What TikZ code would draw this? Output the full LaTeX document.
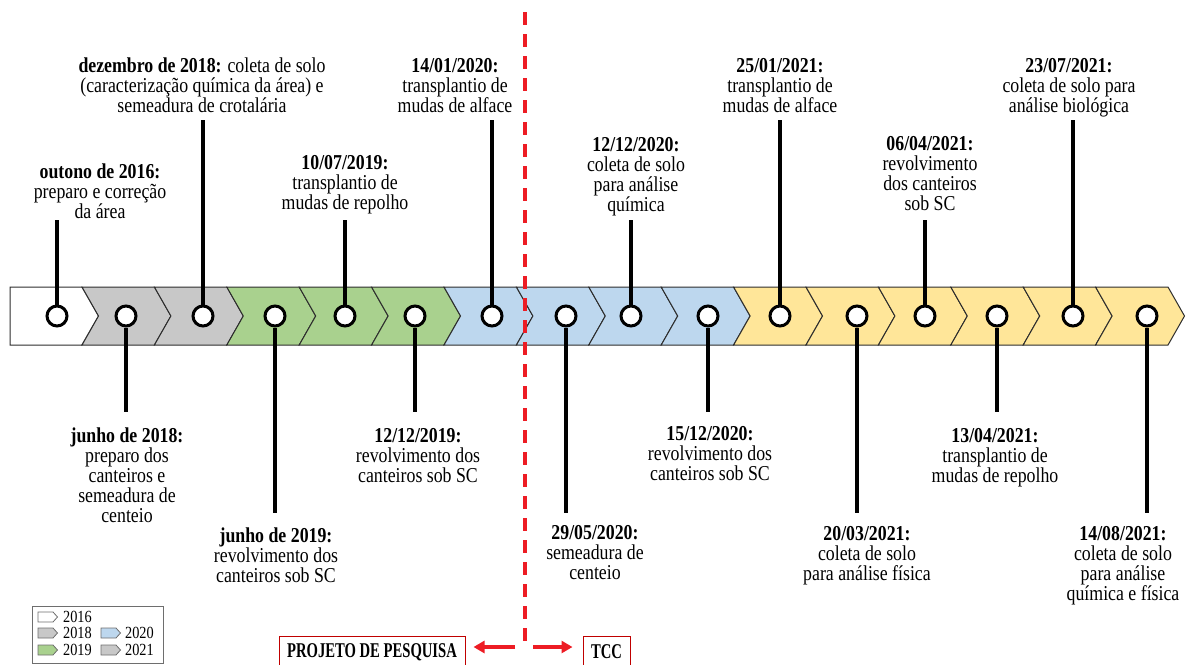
\documentclass[tikz,border=0pt]{standalone}
\usepackage{fontspec}
\usepackage{graphicx}
\setmainfont{Liberation Serif}[FakeStretch=0.84]
\usetikzlibrary{arrows.meta}
\definecolor{segGray}{RGB}{200,200,200}
\definecolor{segGreen}{RGB}{169,209,142}
\definecolor{segBlue}{RGB}{189,215,238}
\definecolor{segYellow}{RGB}{255,230,153}
\definecolor{segLine}{RGB}{45,45,45}
\definecolor{tlRed}{RGB}{237,28,36}
\definecolor{boxRed}{RGB}{192,0,0}
\definecolor{legGray}{RGB}{110,110,110}
\begin{document}
\begin{tikzpicture}[x=1pt,y=-1pt,
  seg/.style={draw=segLine,line width=1pt,line join=miter},
  dot/.style={circle,draw=black,fill=white,line width=3pt,minimum size=20pt,inner sep=0pt},
  stem/.style={draw=black,line width=3.5pt},
  lbl/.style={align=center,inner sep=0pt,anchor=north,font=\fontsize{21.2}{20}\selectfont},
  redbox/.style={draw=boxRed,line width=1pt,fill=white,inner sep=0pt,minimum height=32pt,font=\fontsize{21}{21}\selectfont\bfseries},
  reddash/.style={draw=tlRed,line width=4pt,dash pattern=on 13pt off 9pt},
  redarrow/.style={draw=tlRed,line width=3.5pt,-{Triangle[length=11pt,width=12pt]}},
  legicon/.style={draw=legGray,line width=0.8pt},
  legtxt/.style={anchor=west,inner sep=0pt,font=\fontsize{17}{17}\selectfont}
]
\useasboundingbox (0,0) rectangle (1186,664);

% chevron band
\foreach \i/\col in {0/white,1/segGray,2/segGray,3/segGreen,4/segGreen,5/segGreen,6/segBlue,7/segBlue,8/segBlue,9/segBlue,10/segYellow,11/segYellow,12/segYellow,13/segYellow,14/segYellow,15/segYellow}{
  \pgfmathsetmacro\R{82+72.4*\i}
  \pgfmathsetmacro\L{82+72.4*(\i-1)}
  \ifnum\i=0
    \draw[seg,fill=\col] (10,287) -- (\R,287) -- (\R+16.5,316) -- (\R,345) -- (10,345) -- cycle;
  \else
    \draw[seg,fill=\col] (\L,287) -- (\R,287) -- (\R+16.5,316) -- (\R,345) -- (\L,345) -- (\L+16.5,316) -- cycle;
  \fi
}

% stem end coordinates
\coordinate (s1) at (57,220);
\coordinate (s2) at (126,412);
\coordinate (s3) at (203,120);
\coordinate (s4) at (275,513);
\coordinate (s5) at (345,220);
\coordinate (s6) at (415,412);
\coordinate (s7) at (492,120);
\coordinate (s8) at (566,513);
\coordinate (s9) at (631,220);
\coordinate (s10) at (708,412);
\coordinate (s11) at (780,120);
\coordinate (s12) at (857,513);
\coordinate (s13) at (925,220);
\coordinate (s14) at (997,412);
\coordinate (s15) at (1073,120);
\coordinate (s16) at (1147,513);

% circles
\node[dot] (c1) at (57,316) {};
\node[dot] (c2) at (126,316) {};
\node[dot] (c3) at (203,316) {};
\node[dot] (c4) at (275,316) {};
\node[dot] (c5) at (345,316) {};
\node[dot] (c6) at (415,316) {};
\node[dot] (c7) at (492,316) {};
\node[dot] (c8) at (566,316) {};
\node[dot] (c9) at (631,316) {};
\node[dot] (c10) at (708,316) {};
\node[dot] (c11) at (780,316) {};
\node[dot] (c12) at (857,316) {};
\node[dot] (c13) at (925,316) {};
\node[dot] (c14) at (997,316) {};
\node[dot] (c15) at (1073,316) {};
\node[dot] (c16) at (1147,316) {};

\foreach \k in {1,...,16}{\draw[stem] (c\k) -- (s\k);}

% top labels
\node[lbl] (t1) at (100,164) {\textbf{outono de 2016:}\\preparo e correção\\da área};
\node[lbl] (t2) at (202,58) {\textbf{dezembro de 2018:} coleta de solo\\(caracterização química da área) e\\semeadura de crotalária};
\node[lbl] (t3) at (345,155) {\textbf{10/07/2019:}\\transplantio de\\mudas de repolho};
\node[lbl] (t4) at (455,58) {\textbf{14/01/2020:}\\transplantio de\\mudas de alface};
\node[lbl] (t5) at (636,137) {\textbf{12/12/2020:}\\coleta de solo\\para análise\\química};
\node[lbl] (t6) at (780,58) {\textbf{25/01/2021:}\\transplantio de\\mudas de alface};
\node[lbl] (t7) at (930,136) {\textbf{06/04/2021:}\\revolvimento\\dos canteiros\\sob SC};
\node[lbl] (t8) at (1069,58) {\textbf{23/07/2021:}\\coleta de solo para\\análise biológica};

% bottom labels
\node[lbl] (b1) at (127,428) {\textbf{junho de 2018:}\\preparo dos\\canteiros e\\semeadura de\\centeio};
\node[lbl] (b2) at (276,528) {\textbf{junho de 2019:}\\revolvimento dos\\canteiros sob SC};
\node[lbl] (b3) at (418,428) {\textbf{12/12/2019:}\\revolvimento dos\\canteiros sob SC};
\node[lbl] (b4) at (595,525) {\textbf{29/05/2020:}\\semeadura de\\centeio};
\node[lbl] (b5) at (710,426) {\textbf{15/12/2020:}\\revolvimento dos\\canteiros sob SC};
\node[lbl] (b6) at (867,526) {\textbf{20/03/2021:}\\coleta de solo\\para análise física};
\node[lbl] (b7) at (995,428) {\textbf{13/04/2021:}\\transplantio de\\mudas de repolho};
\node[lbl] (b8) at (1123,526) {\textbf{14/08/2021:}\\coleta de solo\\para análise\\química e física};

% red divider
\coordinate (d0) at (525,12);
\coordinate (d1) at (525,647);
\draw[reddash] (d0) -- (d1);

\node[redbox,minimum width=186pt] (pp) at (372,652) {\scalebox{0.83}[1]{PROJETO DE PESQUISA}};
\node[redbox,minimum width=47pt] (tcc) at (606.5,652) {\scalebox{0.83}[1]{TCC}};
\coordinate (aL) at (515,647);
\coordinate (aR) at (533,647);
\draw[redarrow,shorten >=8pt] (aL) -- (aL -| pp.east);
\draw[redarrow,shorten >=10pt] (aR) -- (aR -| tcc.west);

% legend
\node[draw=legGray,line width=1pt,minimum width=131pt,minimum height=57pt,anchor=north west,inner sep=0pt] (leg) at (32,606) {};
\draw[legicon,fill=white] (38,612) -- (53,612) -- (57.5,617) -- (53,622) -- (38,622) -- cycle;
\draw[legicon,fill=segGray] (38,628) -- (53,628) -- (57.5,633) -- (53,638) -- (38,638) -- cycle;
\draw[legicon,fill=segGreen] (38,645) -- (53,645) -- (57.5,650) -- (53,655) -- (38,655) -- cycle;
\draw[legicon,fill=segBlue] (101,628) -- (116,628) -- (120.5,633) -- (116,638) -- (101,638) -- cycle;
\draw[legicon,fill=segGray] (101,645) -- (116,645) -- (120.5,650) -- (116,655) -- (101,655) -- cycle;
\node[legtxt] (g1) at (63,617) {2016};
\node[legtxt] (g2) at (63,633) {2018};
\node[legtxt] (g3) at (63,650) {2019};
\node[legtxt] (g4) at (125,633) {2020};
\node[legtxt] (g5) at (125,650) {2021};
\end{tikzpicture}
\end{document}
